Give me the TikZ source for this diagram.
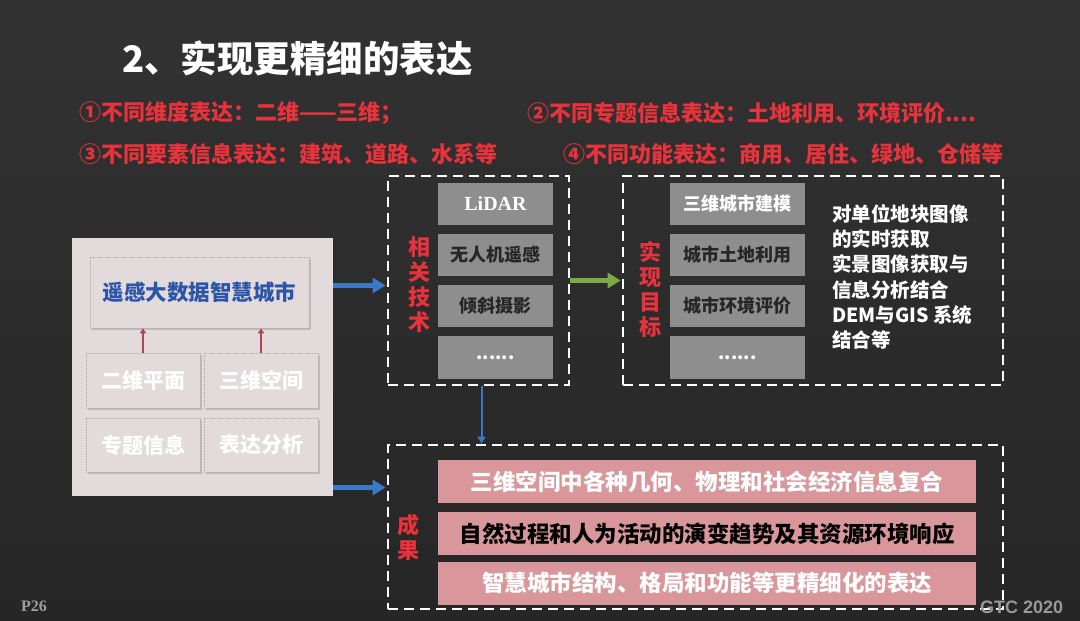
\documentclass[tikz,border=0pt]{standalone}
\usepackage{fontspec}
\setmainfont{Noto Sans CJK SC}
\newfontfamily\serifb{Liberation Serif}
\newfontfamily\sansb{Liberation Sans}
\usetikzlibrary{arrows.meta,shadows}
\definecolor{bg}{HTML}{2A2A2A}
\definecolor{bgtop}{HTML}{323232}
\definecolor{bgbot}{HTML}{262626}
\definecolor{hired}{HTML}{E8323C}
\definecolor{panel}{HTML}{E2DADB}
\definecolor{graybox}{HTML}{8E8E8E}
\definecolor{pinkbox}{HTML}{D9979B}
\definecolor{arrblue}{HTML}{3A78C8}
\definecolor{arrgreen}{HTML}{7DAA45}
\definecolor{titleblue}{HTML}{2B55A8}
\definecolor{darktext}{HTML}{262626}
\definecolor{smallred}{HTML}{B04452}
\newcommand{\fs}[2]{\fontsize{#1}{#2}\selectfont}
\begin{document}
\begin{tikzpicture}[x=1pt,y=-1pt,
  frame/.style={draw=white, dash pattern=on 10pt off 6pt, line width=2.8pt, fill=none, inner sep=0pt},
  gbox/.style={fill=graybox, minimum width=#1, minimum height=42pt, inner sep=0pt, font=\bfseries\fs{18}{18}},
  pbox/.style={fill=pinkbox, minimum width=538pt, minimum height=43pt, inner sep=0pt, font=\bfseries\fs{22.5}{22.5}},
  lbox/.style={fill=panel, draw=gray!60, densely dotted, line width=0.6pt, inner sep=0pt,
     drop shadow={opacity=0.35, shadow xshift=1.5pt, shadow yshift=-2pt}},
  vlabel/.style={text=hired, font=\bfseries\fs{22}{25}, align=center, inner sep=0pt},
  redline/.style={text=hired, font=\bfseries\fs{22}{22}, anchor=west, inner sep=0pt},
  barrow/.style={draw=arrblue, line width=4.5pt, -{Triangle[length=13pt,width=15pt]}, shorten >=1pt},
  garrow/.style={draw=arrgreen, line width=4.5pt, -{Triangle[length=13pt,width=15pt]}, shorten >=1pt},
  sarrow/.style={draw=smallred, line width=2pt, -{Triangle[length=5pt,width=6pt]}}
]
\shade[top color=bgtop, bottom color=bgbot] (0,0) rectangle (1080,621);
\useasboundingbox (0,0) rectangle (1080,621);

% title and headings
\node[anchor=west, text=white, font=\bfseries\fs{36.5}{36.5}, inner sep=0pt] (title) at (122,58) {2、实现更精细的表达};
\node[redline] (h1) at (79,113) {①不同维度表达：二维——三维；};
\node[redline] (h2) at (527,113) {②不同专题信息表达：土地利用、环境评价....};
\node[redline] (h3) at (79,154) {③不同要素信息表达：建筑、道路、水系等};
\node[redline] (h4) at (563,154) {④不同功能表达：商用、居住、绿地、仓储等};

% left panel
\node[fill=panel, minimum width=261pt, minimum height=258pt, inner sep=0pt] (panel) at (202.5,367) {};
\node[lbox, minimum width=219pt, minimum height=71pt, text=titleblue, font=\bfseries\fs{21.5}{21.5}] (city) at (199.5,292.5) {遥感大数据智慧城市};
\node[lbox, minimum width=114pt, minimum height=55pt, text=white, font=\bfseries\fs{21}{21}] (erwei) at (143,380.5) {二维平面};
\node[lbox, minimum width=114pt, minimum height=55pt, text=white, font=\bfseries\fs{21}{21}] (sanwei) at (261,380.5) {三维空间};
\node[lbox, minimum width=114pt, minimum height=54pt, text=white, font=\bfseries\fs{21}{21}] (zhuanti) at (143,445) {专题信息};
\node[lbox, minimum width=114pt, minimum height=54pt, text=white, font=\bfseries\fs{21}{21}] (biaoda) at (261,445) {表达分析};
\draw[sarrow] (erwei.north) -- (erwei.north |- city.south);
\draw[sarrow] (sanwei.north) -- (sanwei.north |- city.south);

% related technology
\node[frame, minimum width=181pt, minimum height=209pt] (tech) at (478.5,280.5) {};
\node[vlabel] (techlab) at (419,285) {相\\关\\技\\术};
\node[gbox=115pt, text=white, font=\serifb\bfseries\fs{20}{20}] (t1) at (495.5,204) {LiDAR};
\node[gbox=115pt, text=darktext] (t2) at (495.5,255) {无人机遥感};
\node[gbox=115pt, text=darktext] (t3) at (495.5,306) {倾斜摄影};
\node[gbox=115pt, text=white, minimum height=43pt] (t4) at (495.5,357.5) {......};

% goals
\node[frame, minimum width=380pt, minimum height=209pt] (goal) at (813,280.5) {};
\node[vlabel] (goallab) at (650,289) {实\\现\\目\\标};
\node[gbox=135pt, text=white] (g1) at (737.5,204) {三维城市建模};
\node[gbox=135pt, text=darktext] (g2) at (737.5,255) {城市土地利用};
\node[gbox=135pt, text=darktext] (g3) at (737.5,306) {城市环境评价};
\node[gbox=135pt, text=white, minimum height=43pt] (g4) at (737.5,357.5) {......};
\node[anchor=north west, text=white, font=\bfseries\fs{19.5}{25.3}, align=left, inner sep=0pt] (gtext) at (832,204)
  {对单位地块图像\\的实时获取\\实景图像获取与\\信息分析结合\\DEM与GIS 系统\\结合等};

% results
\node[frame, minimum width=615pt, minimum height=164pt] (res) at (695.5,527) {};
\node[vlabel] (reslab) at (408,537) {成\\果};
\node[pbox, text=white] (r1) at (707,481.5) {三维空间中各种几何、物理和社会经济信息复合};
\node[pbox, text=black] (r2) at (707,533.5) {自然过程和人为活动的演变趋势及其资源环境响应};
\node[pbox, text=white] (r3) at (707,583) {智慧城市结构、格局和功能等更精细化的表达};

% connectors
\draw[barrow] ([yshift=-5pt]panel.east |- tech.west) -- ([yshift=-5pt]tech.west);
\draw[barrow] ([yshift=-6pt]panel.east |- r1) -- ([yshift=-6pt]res.west |- r1);
\draw[garrow] (tech.east) -- (goal.west);
\draw[draw=arrblue, line width=2pt, -{Triangle[length=7pt,width=8pt]}] ([xshift=3pt]tech.south) -- ([xshift=3pt]tech.south |- res.north);

% footer
\node[anchor=west, text=gray!75, font=\serifb\bfseries\fs{16}{16}, inner sep=0pt] (page) at (21,606) {P26};
\node[anchor=west, text=gray!80, font=\sansb\bfseries\fs{18}{18}, inner sep=0pt] (gtc) at (980,607) {GTC 2020};
\end{tikzpicture}
\end{document}
